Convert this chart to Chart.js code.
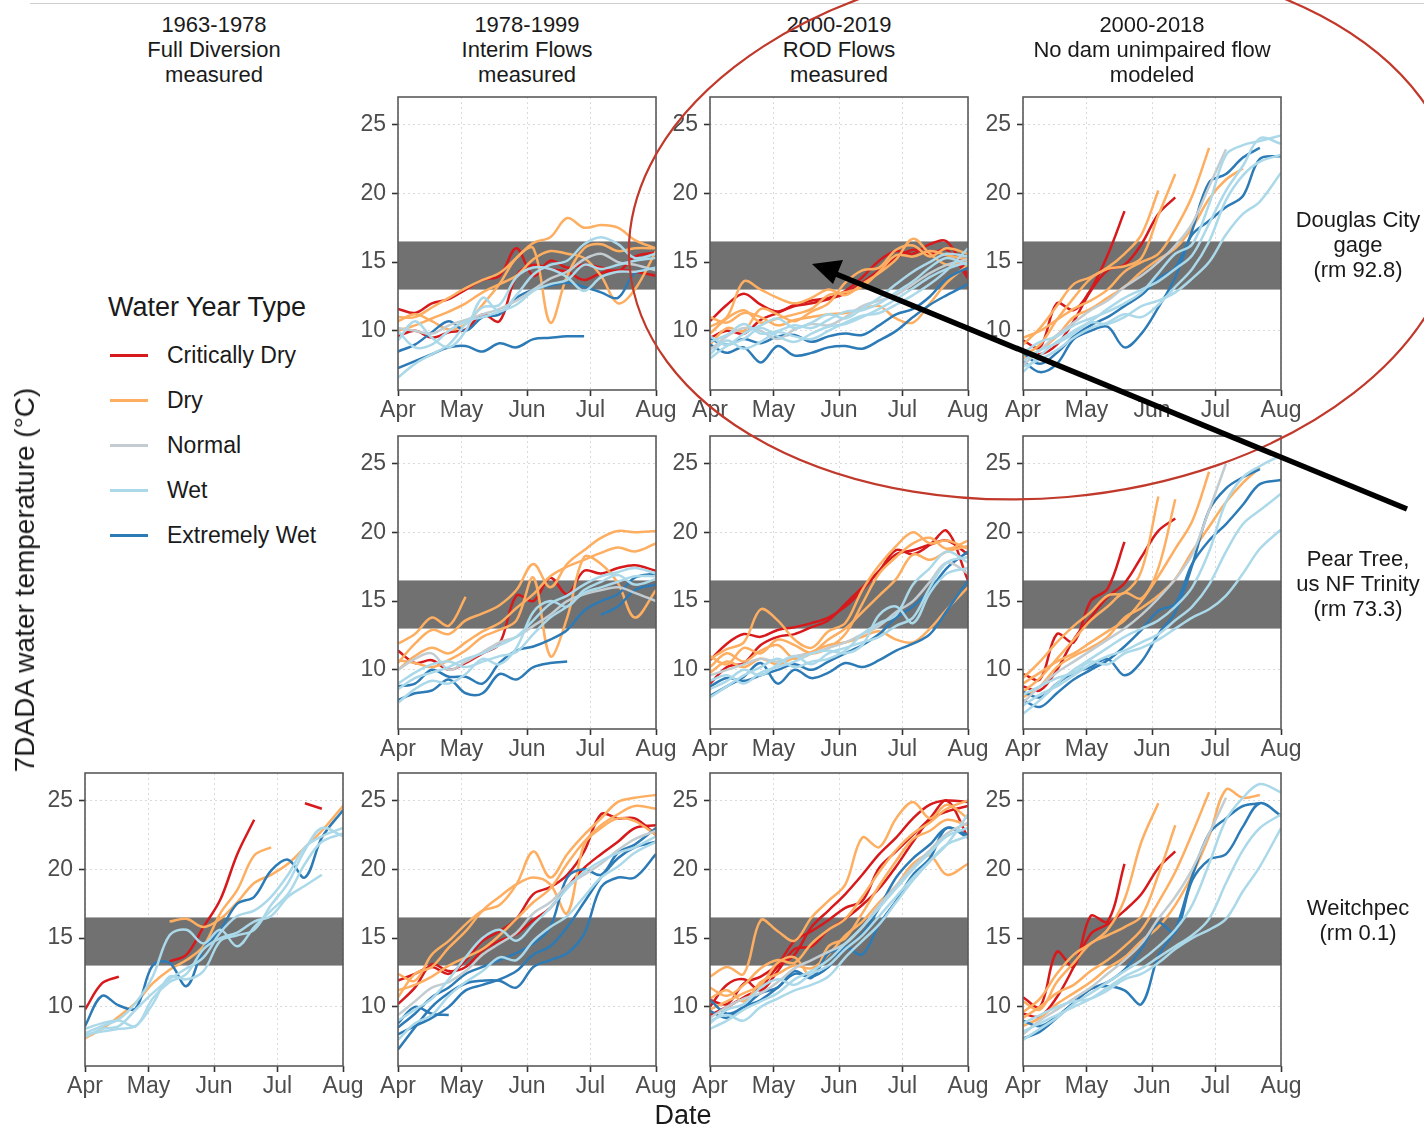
<!DOCTYPE html>
<html><head><meta charset="utf-8">
<script src="https://cdn.jsdelivr.net/npm/chart.js@4.4.1/dist/chart.umd.min.js"></script>
<style>
html,body{margin:0;padding:0;background:#fff}
body{width:1424px;height:1126px;position:relative;overflow:hidden;font-family:"Liberation Sans",Arial,sans-serif;color:#1a1a1a}
.t{position:absolute;white-space:nowrap;text-align:center;line-height:25px;font-size:22px}
canvas{position:absolute}
.lk{position:absolute;left:110px;width:38px;height:3px}
.ll{position:absolute;left:167px;font-size:23px;line-height:26px;white-space:nowrap}
</style></head><body>
<div style="position:absolute;left:30px;top:3px;width:1394px;height:1px;background:#cfcfcf"></div>
<script>
const _ = null;
const DAYS = [0,8,16,24,32,40,48,56,64,72,80,88,96,104,112,122];
const MONTH_TICKS = [0,30,61,91,122];
const MONTH_LABELS = ['Apr','May','Jun','Jul','Aug'];
const TEMP_TICKS = [10,15,20,25];
const BAND = [13,16.5];
const TYPE_CODES = ['CD','D','N','W','EW'];
const TYPE_NAMES = ['Critically Dry','Dry','Normal','Wet','Extremely Wet'];
const PERIODS = [['1963-1978','Full Diversion','measured'],['1978-1999','Interim Flows','measured'],['2000-2019','ROD Flows','measured'],['2000-2018','No dam unimpaired flow','modeled']];
const SITES = [['Douglas City','gage','(rm 92.8)'],['Pear Tree,','us NF Trinity','(rm 73.3)'],['Weitchpec','(rm 0.1)']];

// Douglas City gage
const DC_INT = [
['D',[11.0,11.0,11.7,12.4,13.1,13.7,14.2,15.3,16.4,16.8,18.2,17.5,17.7,17.5,16.6,16.0]],
['D',[10.7,11.2,10.7,10.1,10.5,11.9,13.4,15.3,16.0,10.6,14.0,16.0,16.3,15.8,16.0,16.0]],
['D',[10.0,10.4,10.9,11.4,12.0,12.8,13.4,14.0,15.2,15.8,15.6,15.3,14.0,12.0,13.0,15.8]],
['CD',[11.6,11.3,12.0,12.3,13.0,13.7,14.0,16.0,14.0,15.1,14.6,14.8,14.6,14.3,15.4,15.7]],
['CD',[9.6,10.0,9.5,9.9,10.1,11.2,10.7,14.0,14.8,14.5,14.3,13.7,14.2,14.4,14.3,14.0]],
['W',[9.3,10.7,9.5,8.8,10.0,12.4,11.4,12.6,14.1,14.8,15.1,16.3,16.8,16.3,15.3,15.6]],
['W',[6.6,7.6,8.3,9.0,10.5,11.7,11.9,13.9,14.6,14.5,13.9,12.9,13.9,14.3,14.3,14.6]],
['W',[10.0,8.8,9.0,10.0,10.7,11.0,11.4,11.9,12.9,13.4,13.7,14.8,14.5,14.8,15.1,15.3]],
['N',[10.2,10.0,9.8,10.4,10.8,11.2,11.6,12.2,13.0,13.8,14.3,15.2,15.6,15.0,14.8,14.4]],
['EW',[7.3,7.8,8.3,8.8,8.9,8.5,9.1,8.8,9.4,9.5,9.6,9.6]],
['EW',[8.5,9.0,9.9,10.7,10.0,11.0,11.2,12.4,13.0,13.3,13.5,13.2,12.8,12.4,14.2,14.6]]
];
const DC_ROD = [
['CD',[10.7,11.9,12.7,11.9,11.4,11.9,12.2,12.4,12.9,13.9,15.1,15.8,15.6,16.3,16.5,14.0]],
['CD',[9.5,10.0,9.8,10.8,11.3,11.8,12.0,12.3,12.7,13.5,14.4,15.3,15.9,15.6,15.9,13.8]],
['D',[10.3,11.0,13.6,13.0,12.4,12.0,12.4,13.0,12.6,13.4,14.2,15.2,16.7,15.6,14.8,15.0]],
['D',[9.8,10.9,11.5,10.6,10.9,11.2,11.6,12.6,12.8,13.2,14.3,15.5,15.4,15.8,15.5,15.2]],
['D',[11.0,10.6,11.3,11.0,10.4,10.8,11.0,11.2,11.3,11.6,11.8,10.9,10.6,12.0,13.5,14.8]],
['D',[9.0,10.2,10.0,11.6,11.2,10.7,11.4,12.0,13.5,14.4,14.6,15.9,16.2,15.4,16.0,15.6]],
['W',[8.0,8.9,9.4,10.2,9.6,9.2,9.8,10.3,10.5,11.0,11.6,12.3,13.1,13.9,14.5,15.0]],
['W',[9.2,9.7,10.5,9.8,10.0,10.4,10.2,10.8,11.4,11.5,12.0,12.8,13.6,14.6,15.3,14.8]],
['W',[9.6,9.0,9.8,10.4,10.9,10.2,10.6,11.2,10.9,11.6,12.4,13.4,14.3,15.0,15.6,15.4]],
['W',[8.3,9.3,8.7,9.2,9.9,9.6,9.4,10.0,10.6,11.1,11.3,11.9,12.6,13.4,14.4,16.0]],
['N',[8.6,9.6,10.2,10.0,9.4,10.1,10.5,10.4,11.0,11.8,12.2,12.6,13.4,14.2,14.8,15.2]],
['EW',[9.0,8.4,8.8,7.7,8.9,8.2,8.4,8.8,8.9,8.7,9.3,10.0,11.0,11.9,12.6,13.4]],
['EW',[9.4,9.0,9.4,9.1,9.6,9.7,9.2,9.6,9.8,9.7,10.4,11.2,11.6,12.5,13.8,14.6]]
];
const DC_NAT = [
['CD',[9.3,8.8,12.0,11.5,13.0,15.5,18.7]],
['CD',[8.6,8.3,9.0,10.7,12.9,14.4,14.8,16.3,18.5,19.7]],
['D',[9.0,10.2,11.8,13.4,13.9,14.6,15.6,17.0,20.2]],
['D',[8.2,9.0,10.8,12.4,13.8,14.5,14.7,15.3,18.4,21.4]],
['D',[9.5,10.0,10.8,11.6,12.2,13.0,14.3,15.0,15.6,17.4,19.8,23.3]],
['D',[8.0,8.6,9.6,11.0,11.6,12.4,13.2,14.3,15.2,16.0,17.5,19.6,21.0,21.8]],
['N',[7.5,8.6,9.7,10.6,11.5,12.2,13.2,14.0,15.0,16.2,17.8,20.5,23.2]],
['W',[7.0,8.2,9.2,10.0,10.7,11.6,12.4,13.0,13.6,14.5,15.5,17.8,20.2,22.0,24.0,23.6]],
['W',[7.8,8.6,9.1,9.8,10.6,10.5,11.0,11.8,12.2,12.8,13.8,15.0,17.0,18.5,19.4,21.5]],
['W',[7.4,7.9,8.6,9.5,10.2,10.6,11.2,11.0,11.9,13.2,14.5,16.5,19.5,21.3,22.3,22.8]],
['W',[8.4,9.2,9.6,10.4,10.9,11.4,12.0,12.8,14.2,15.6,16.3,19.2,22.8,23.5,23.8,24.2]],
['EW',[7.8,7.0,7.6,9.4,10.0,10.3,8.8,9.8,11.7,13.9,17.3,20.8,21.4,22.6,23.3]],
['EW',[8.4,7.6,8.4,9.6,10.4,11.0,11.8,12.6,13.8,14.6,17.0,18.0,19.0,19.8,22.5,22.7]]
];
// Pear Tree, us NF Trinity
const PT_INT = [
['D',[11.9,12.6,13.8,13.2,15.3]],
['D',[10.5,11.9,12.9,12.6,13.6,14.1,14.7,15.8,17.7,16.0,17.7,18.7,19.6,20.1,20.0,20.1]],
['D',[10.7,10.5,10.2,10.7,11.4,12.4,12.9,13.6,16.7,11.0,13.8,18.2,17.7,16.3,13.8,15.8]],
['D',[10.0,11.0,11.6,11.2,12.0,12.8,13.4,14.5,15.5,16.8,17.5,18.0,18.5,18.9,18.6,19.2]],
['CD',[11.4,10.5,10.7,10.0,10.5,11.2,11.9,15.4,15.0,16.7,15.5,17.2,17.0,17.4,17.6,17.2]],
['W',[8.6,9.4,9.8,10.2,10.8,11.2,11.8,12.4,13.6,14.8,15.4,16.2,16.8,17.1,17.4,17.0]],
['W',[7.6,8.6,9.2,9.0,9.7,10.8,10.4,11.6,14.2,15.0,14.6,15.8,16.4,16.9,16.2,16.6]],
['W',[9.0,9.8,10.4,10.6,10.2,10.6,11.0,11.3,12.6,13.8,14.6,15.6,16.0,16.4,16.8,16.8]],
['N',[10.0,10.8,11.2,10.0,10.6,11.3,12.0,12.4,13.2,14.0,15.0,15.5,15.8,16.0,15.6,15.0]],
['EW',[7.8,8.3,8.5,9.3,8.3,8.3,9.7,9.3,10.2,10.5,10.6]],
['EW',[8.8,9.0,10.0,9.5,9.5,9.0,10.5,11.4,11.7,12.2,12.9,14.3,15.0,15.5,16.7,17.0]],
['EW',[_,_,_,_,_,_,_,_,_,_,_,_,14.0,14.6,15.8,16.2]]
];
const PT_ROD = [
['CD',[10.7,11.9,12.6,12.4,12.9,13.1,13.4,13.8,14.6,15.8,17.2,18.7,18.4,19.1,20.1,16.5]],
['CD',[9.0,10.2,10.5,11.8,12.4,12.6,13.1,13.6,14.8,16.0,17.2,18.4,18.7,19.1,19.4,18.4]],
['D',[10.8,11.5,12.0,14.4,13.6,12.2,11.6,12.8,13.4,15.8,17.6,19.0,20.0,19.2,19.4,18.8]],
['D',[11.0,10.4,11.6,11.2,12.2,11.8,11.2,11.6,12.6,14.8,17.0,18.2,19.2,19.6,18.8,19.4]],
['D',[9.8,10.6,10.2,10.8,10.4,10.9,11.3,11.8,12.0,12.4,12.8,12.2,12.0,13.0,14.4,16.0]],
['D',[10.2,11.2,10.6,11.4,11.8,10.8,11.2,12.2,13.0,14.2,15.4,16.6,18.4,18.0,18.6,19.0]],
['W',[8.0,8.8,9.6,10.2,10.8,10.2,10.6,10.8,11.4,12.6,13.4,14.0,16.2,17.4,18.6,17.8]],
['W',[8.6,9.2,10.0,9.6,10.4,11.0,10.4,11.2,11.6,12.0,12.4,13.2,13.8,16.0,17.8,18.2]],
['W',[9.2,9.6,9.0,9.8,10.2,10.6,11.2,11.4,11.2,11.8,14.0,14.6,13.4,15.6,17.0,17.4]],
['N',[9.6,10.0,10.4,10.8,10.6,11.0,11.2,11.6,12.0,12.6,13.2,14.2,15.0,16.4,17.8,17.0]],
['EW',[8.1,8.8,9.5,10.5,9.0,10.0,9.4,9.8,10.5,10.2,10.7,11.4,11.9,12.6,14.3,16.5]],
['EW',[8.8,9.4,9.2,9.6,10.0,10.4,10.0,10.6,11.2,11.8,12.6,13.8,14.6,15.8,17.4,18.6]]
];
const PT_NAT = [
['CD',[9.7,9.3,12.6,12.0,15.0,15.9,19.3]],
['CD',[8.8,8.5,10.0,12.2,13.8,15.3,16.3,18.2,20.1,21.0]],
['D',[9.4,10.6,12.0,13.2,14.2,15.4,15.6,17.2,22.6]],
['D',[8.4,9.4,10.8,12.2,13.6,14.6,15.6,15.2,17.4,22.4]],
['D',[9.0,9.8,10.6,11.2,12.0,12.8,13.6,15.0,16.8,18.8,20.8,24.4]],
['D',[8.0,8.8,10.2,11.0,11.6,12.4,13.8,14.5,15.4,16.6,18.6,20.4,22.2,23.6,24.7]],
['N',[7.6,8.8,9.8,10.6,11.4,12.2,13.0,14.0,15.2,16.6,18.4,21.6,25.0]],
['W',[6.8,7.8,9.0,10.0,10.8,11.6,12.4,13.0,13.6,14.6,16.0,18.6,22.2,24.0,24.8,25.6]],
['W',[7.4,8.2,8.8,9.6,10.4,11.0,11.4,12.0,12.6,13.6,14.6,16.2,18.6,20.6,21.6,22.8]],
['W',[8.2,8.8,9.4,9.8,10.6,10.4,11.2,11.6,12.2,13.0,13.8,14.4,15.4,17.0,18.8,20.2]],
['EW',[8.4,8.0,9.0,9.8,10.2,10.8,9.6,10.6,12.6,14.2,17.6,21.6,23.2,24.0,24.6]],
['EW',[7.8,7.3,8.3,9.3,10.0,10.7,11.7,12.9,14.3,14.8,17.7,19.4,20.6,22.0,23.5,23.8]]
];
// Weitchpec
const WP_FULL = [
['CD',[9.8,11.7,12.2]],
['CD',[_,_,_,_,_,13.3,13.8,15.8,17.8,21.1,23.6]],
['CD',[_,_,_,_,_,_,_,_,_,_,_,_,_,24.8,24.4]],
['D',[7.7,8.4,9.3,10.3,11.7,12.7,13.4,14.4,16.8,18.5,21.0,21.6]],
['D',[_,_,_,_,_,16.2,16.4,15.8,16.4,17.6,19.0,19.6,20.4,21.6,22.8,24.6]],
['W',[8.1,8.6,9.1,10.3,12.2,15.2,15.6,14.6,15.6,14.4,15.8,17.0,18.2,20.4,22.0,22.6]],
['W',[7.8,8.4,8.6,9.8,11.0,12.0,12.8,13.6,15.4,16.6,17.0,18.0,19.6,21.6,22.4,23.0]],
['W',[8.4,8.8,9.0,8.6,10.6,11.8,12.4,14.2,15.0,15.4,16.2,16.6,18.0,18.8,19.6]],
['W',[8.0,8.2,8.4,8.6,10.2,12.2,12.0,12.6,14.8,15.2,15.6,17.4,19.0,21.4,23.0,22.4]],
['EW',[8.6,10.8,10.1,9.9,13.0,13.2,11.5,14.2,15.6,17.5,18.0,19.9,20.7,19.4,22.3,24.3]]
];
const WP_INT = [
['CD',[11.9,12.4,12.9,12.4,13.4,14.8,15.5,16.4,18.2,18.7,19.6,21.3,24.0,23.7,23.7,22.5]],
['CD',[10.2,11.4,13.1,12.6,12.9,14.1,14.8,15.3,16.3,17.2,18.7,20.1,21.1,22.0,23.0,23.2]],
['D',[12.4,11.9,13.8,14.8,16.0,17.0,17.4,18.9,21.3,19.4,21.1,22.5,23.7,24.9,25.2,25.4]],
['D',[10.7,12.4,12.9,14.3,15.5,17.0,18.0,18.9,19.4,18.9,16.8,21.8,23.0,23.7,23.5,22.5]],
['D',[11.2,11.6,12.2,13.0,13.6,14.2,15.2,16.4,17.6,18.6,20.4,22.0,23.2,24.0,24.6,24.4]],
['W',[9.0,9.8,10.6,12.0,13.6,15.0,15.6,14.8,16.0,17.2,18.6,19.8,20.6,21.2,21.6,22.4]],
['W',[7.6,8.8,9.4,10.8,11.8,12.6,13.6,13.4,14.8,15.8,16.6,18.0,19.4,20.2,21.2,22.0]],
['N',[9.4,10.4,11.4,11.8,12.6,13.8,14.6,15.4,16.8,17.6,18.8,19.6,20.4,21.4,22.2,22.8]],
['EW',[8.8,10.0,9.5,9.4]],
['EW',[6.9,8.5,10.0,11.0,11.7,11.9,11.9,11.4,12.9,13.4,13.9,15.3,18.7,19.4,19.4,21.1]],
['EW',[8.5,9.5,10.7,11.4,12.4,12.9,13.4,13.9,14.6,15.8,19.4,20.0,19.6,21.2,21.8,23.0]],
['EW',[8.0,8.6,9.2,10.0,11.2,11.6,12.0,12.6,13.8,14.4,15.8,17.6,19.4,20.8,21.6,22.0]]
];
const WP_ROD = [
['CD',[9.4,10.0,10.7,11.4,12.9,13.8,15.8,17.0,18.2,19.6,21.1,22.3,23.7,24.7,25.0,24.9]],
['CD',[10.5,10.2,11.7,12.2,13.1,14.8,15.5,16.3,17.2,17.7,20.1,21.3,22.5,23.7,25.0,22.3]],
['CD',[10.0,11.6,12.0,11.2,12.6,14.2,14.4,15.6,16.4,17.4,18.6,20.2,22.0,23.6,24.2,24.6]],
['D',[12.2,12.9,12.4,16.3,15.5,14.8,16.5,17.7,18.9,22.3,21.6,23.7,24.9,23.7,24.7,23.7]],
['D',[11.4,10.8,11.6,12.8,13.4,13.2,14.6,15.6,16.4,18.0,19.8,21.4,22.6,23.4,24.4,25.0]],
['D',[10.6,11.2,10.4,11.8,12.4,13.0,12.8,13.8,15.2,16.2,17.6,18.8,20.4,21.0,19.6,20.4]],
['D',[9.8,10.4,11.0,11.6,13.2,13.6,12.2,14.4,15.0,16.8,18.8,20.6,22.2,22.8,23.6,23.2]],
['W',[8.4,9.0,9.8,10.4,11.0,12.0,12.6,13.4,14.6,15.8,17.2,18.6,20.0,21.2,22.4,23.0]],
['W',[9.0,9.4,9.0,10.0,10.6,11.2,11.6,12.2,13.6,14.8,16.0,17.6,19.2,20.6,21.8,22.4]],
['W',[8.8,9.8,10.2,11.4,12.0,11.6,12.4,13.0,14.2,15.2,16.6,18.0,19.4,20.6,21.8,24.0]],
['N',[9.2,10.0,10.6,11.0,11.8,12.8,13.4,14.0,14.6,15.8,17.4,18.8,20.2,21.4,22.6,23.4]],
['EW',[10.5,9.5,10.0,11.0,11.4,12.6,12.1,13.9,14.3,15.3,17.2,19.4,20.8,21.8,23.0,22.5]],
['EW',[9.7,9.2,10.0,10.5,11.4,12.4,12.2,12.9,14.3,13.8,16.0,17.7,19.6,20.8,23.0,22.3]]
];
const WP_NAT = [
['CD',[10.7,10.0,14.0,12.9,16.6,16.2,20.4]],
['CD',[9.5,9.3,10.7,12.9,15.3,16.0,17.0,18.2,20.1,21.3]],
['D',[9.6,10.6,12.4,13.8,14.6,15.6,17.8,22.0,24.8]],
['D',[10.4,9.8,11.8,13.2,14.6,15.2,15.8,16.6,19.6,23.2]],
['D',[9.2,10.0,11.0,11.6,12.6,13.4,14.4,15.6,17.6,19.8,22.6,25.6]],
['D',[8.6,9.2,10.2,11.0,11.8,12.8,13.6,14.8,15.8,17.4,19.6,22.4,25.8,25.2,25.4]],
['N',[8.0,9.0,9.8,10.6,11.4,12.4,13.4,14.6,16.4,18.0,20.0,22.6,25.2]],
['W',[7.6,8.4,9.2,10.2,11.0,11.8,12.6,13.4,14.4,15.6,17.4,20.4,23.6,25.2,26.2,25.6]],
['W',[8.2,8.8,9.4,10.0,10.6,11.4,12.2,12.8,13.6,14.4,15.2,16.4,19.0,21.4,23.0,24.0]],
['W',[8.8,9.4,10.0,10.4,10.6,11.2,12.0,12.4,13.2,14.2,15.0,15.6,16.4,18.4,20.2,23.0]],
['EW',[9.0,8.6,9.3,10.3,11.3,11.5,11.2,10.2,13.7,15.6,19.5,22.6,23.7,24.6,24.8]],
['EW',[7.7,8.2,9.2,10.3,11.3,11.8,12.7,14.2,16.1,15.4,19.2,20.7,21.1,23.1,24.8,23.9]]
];

const COLORS = {CD:'#d7191c', D:'#fdae61', N:'#c2ccd1', W:'#abd9e9', EW:'#2c7bb6'};
const DRAW_ORDER = ['W','N','EW','D','CD'];
const COL_X = [85, 398, 710, 1023];
const ROW_Y = [97, 436, 773];
const PW = 258, PH = 293;
const Y_MIN = 5.7, Y_MAX = 27.0;
const FONT = '"Liberation Sans", Arial, sans-serif';

const PANELS = [
  {s: DC_INT, r:0, c:1}, {s: DC_ROD, r:0, c:2}, {s: DC_NAT, r:0, c:3},
  {s: PT_INT, r:1, c:1}, {s: PT_ROD, r:1, c:2}, {s: PT_NAT, r:1, c:3},
  {s: WP_FULL, r:2, c:0}, {s: WP_INT, r:2, c:1}, {s: WP_ROD, r:2, c:2}, {s: WP_NAT, r:2, c:3}
];

const panelDeco = {
  id: 'panelDeco',
  beforeDatasetsDraw(chart) {
    const {ctx, chartArea: a, scales: {y}} = chart;
    const y1 = y.getPixelForValue(BAND[1]), y2 = y.getPixelForValue(BAND[0]);
    ctx.save();
    ctx.fillStyle = '#717171';
    ctx.fillRect(a.left, y1, a.right - a.left, y2 - y1);
    ctx.restore();
  },
  afterDraw(chart) {
    const {ctx, chartArea: a} = chart;
    ctx.save();
    ctx.strokeStyle = '#5a5a5a';
    ctx.lineWidth = 1.6;
    ctx.strokeRect(a.left, a.top, a.right - a.left, a.bottom - a.top);
    ctx.restore();
  }
};

function makePanel(p) {
  const L = COL_X[p.c], T = ROW_Y[p.r];
  const padL = 50, padT = 10, padR = 30, padB = 40;
  const W = PW + padL + padR, H = PH + padT + padB;
  const cv = document.createElement('canvas');
  cv.width = W; cv.height = H;
  cv.style.left = (L - padL) + 'px'; cv.style.top = (T - padT) + 'px';
  cv.style.width = W + 'px'; cv.style.height = H + 'px';
  document.body.appendChild(cv);
  const ordered = [];
  DRAW_ORDER.forEach(code => p.s.forEach(([c, v]) => { if (c === code) ordered.push([c, v]); }));
  const datasets = ordered.map(([c, v]) => ({
    data: DAYS.map((d, i) => ({x: d, y: (v[i] === undefined ? null : v[i])})),
    borderColor: COLORS[c], borderWidth: 2.5, pointRadius: 0, tension: 0.35,
    fill: false, spanGaps: false
  }));
  const tickFont = {family: FONT, size: 23};
  new Chart(cv, {
    type: 'line',
    data: {datasets},
    options: {
      responsive: false, animation: false, events: [],
      layout: {padding: {left: 0, top: padT, right: padR, bottom: 0}},
      plugins: {legend: {display: false}, tooltip: {enabled: false}},
      scales: {
        x: {
          type: 'linear', min: 0, max: 122,
          afterFit: s => { s.height = padB; s.paddingLeft = 0; s.paddingRight = 0; },
          afterBuildTicks: s => { s.ticks = MONTH_TICKS.map(v => ({value: v})); },
          ticks: {callback: v => MONTH_LABELS[MONTH_TICKS.indexOf(v)], font: tickFont, color: '#4d4d4d', padding: 1, maxRotation: 0, minRotation: 0, autoSkip: false},
          grid: {color: '#dadada', lineWidth: 1, tickLength: 6, tickColor: '#333', tickWidth: 1.6},
          border: {display: false, dash: [2, 3]}
        },
        y: {
          min: Y_MIN, max: Y_MAX,
          afterFit: s => { s.width = padL; s.paddingTop = 0; s.paddingBottom = 0; },
          afterBuildTicks: s => { s.ticks = TEMP_TICKS.map(v => ({value: v})); },
          ticks: {font: tickFont, color: '#4d4d4d', padding: 6},
          grid: {color: '#dadada', lineWidth: 1, tickLength: 6, tickColor: '#333', tickWidth: 1.6},
          border: {display: false, dash: [2, 3]}
        }
      }
    },
    plugins: [panelDeco]
  });
}
PANELS.forEach(makePanel);

function addText(html, css, cls) {
  const d = document.createElement('div');
  d.className = cls || 't';
  d.innerHTML = html;
  Object.assign(d.style, css);
  document.body.appendChild(d);
  return d;
}
// column headers
PERIODS.forEach((lines, c) => {
  addText(lines.join('<br>'), {left: (COL_X[c] + PW / 2) + 'px', top: '12px', transform: 'translateX(-50%)'});
});
// strip labels
SITES.forEach((lines, r) => {
  addText(lines.join('<br>'), {left: '1358px', top: (ROW_Y[r] + PH / 2) + 'px', transform: 'translate(-50%,-50%)'});
});
// axis titles
addText('7DADA water temperature (°C)', {left: '25px', top: '580px', fontSize: '28px', lineHeight: '30px', transform: 'translate(-50%,-50%) rotate(-90deg)'});
addText('Date', {left: '683px', top: '1115px', fontSize: '27px', lineHeight: '30px', transform: 'translate(-50%,-50%)'});
// legend
addText('Water Year Type', {left: '108px', top: '307px', fontSize: '27px', lineHeight: '30px', transform: 'translateY(-50%)', textAlign: 'left'});
TYPE_CODES.forEach((code, i) => {
  const y = 355 + i * 45;
  addText('', {top: (y - 1.5) + 'px', background: COLORS[code]}, 'lk');
  addText(TYPE_NAMES[i], {top: (y - 13) + 'px'}, 'll');
});
</script>
<svg width="1424" height="1126" style="position:absolute;left:0;top:0;pointer-events:none">
  <ellipse cx="1044" cy="230" rx="416" ry="268" transform="rotate(-5 1044 230)" fill="none" stroke="#c0392b" stroke-width="2.2"/>
  <line x1="1407" y1="509" x2="836" y2="274" stroke="#000" stroke-width="5.5"/>
  <polygon points="812,264 843,260 833,284" fill="#000"/>
</svg>
</body></html>
